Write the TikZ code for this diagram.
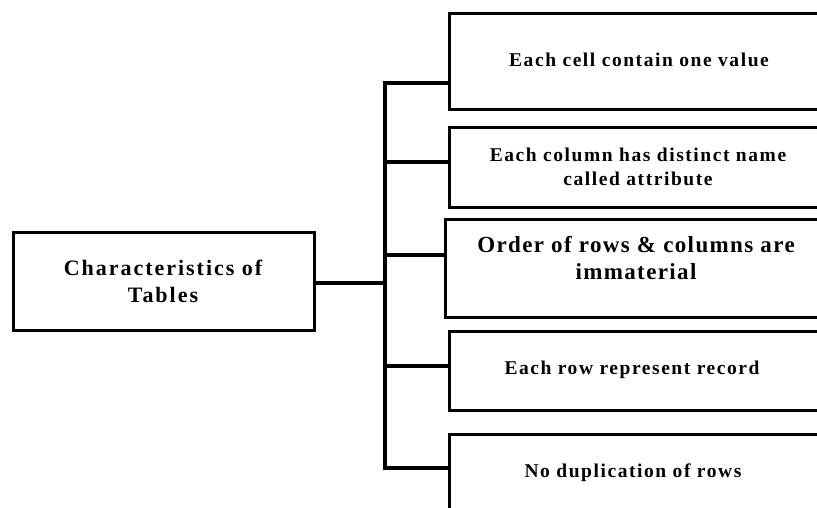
\documentclass[tikz,border=0pt]{standalone}
\usepackage{fontspec}
\setmainfont{Liberation Serif}
\newfontfamily\spB[LetterSpace=8]{Liberation Serif}
\newfontfamily\spC[LetterSpace=6]{Liberation Serif}
\newfontfamily\spD[LetterSpace=9]{Liberation Serif}
\begin{document}
\begin{tikzpicture}[x=1pt,y=-1pt,
  box/.style={draw=black, line width=3pt, rectangle, anchor=north west, inner sep=0pt},
  lbl/.style={align=center, inner sep=0pt, text=black},
  small/.style={lbl, font=\spB\bfseries\fontsize{19.5}{24}\selectfont},
  conn/.style={draw=black, line width=3.4pt}]
\useasboundingbox (0,0) rectangle (817,507);
\clip (0,0) rectangle (817,507);
% main box
\node[box, minimum width=301pt, minimum height=98pt] (main) at (12,231) {};
\node[lbl, font=\spD\bfseries\fontsize{22}{27}\selectfont] (mt) at (163,281) {Characteristics of\\Tables};
% right boxes
\node[box, minimum width=382pt, minimum height=96pt] (b1) at (448,12) {};
\node[box, minimum width=382pt, minimum height=80pt] (b2) at (448,126) {};
\node[box, minimum width=386pt, minimum height=98pt] (b3) at (444,218) {};
\node[box, minimum width=382pt, minimum height=79pt] (b4) at (448,330) {};
\node[box, minimum width=382pt, minimum height=100pt] (b5) at (448,433) {};
\node[small] (t1) at (639,60) {Each cell contain one value};
\node[small] (t2) at (638,167) {Each column has distinct name\\called attribute};
\node[lbl, font=\spC\bfseries\fontsize{23}{27}\selectfont] (t3) at (636,258.5) {Order of rows \& columns are\\immaterial};
\node[small] (t4) at (632,370) {Each row represent record};
\node[small] (t5) at (633,473) {No duplication of rows};
% trunk
\coordinate (top) at (385,83);
\coordinate (j2) at (385,162);
\coordinate (j3) at (385,255);
\coordinate (jm) at (385,283);
\coordinate (j4) at (385,366);
\coordinate (bot) at (385,468);
\draw[conn, line cap=rect] (top) -- (bot);
\draw[conn] (top) -- (top -| b1.west);
\draw[conn] (j2) -- (j2 -| b2.west);
\draw[conn] (j3) -- (j3 -| b3.west);
\draw[conn] (j4) -- (j4 -| b4.west);
\draw[conn] (bot) -- (bot -| b5.west);
\draw[conn] (main.east |- jm) -- (jm);
\end{tikzpicture}
\end{document}
